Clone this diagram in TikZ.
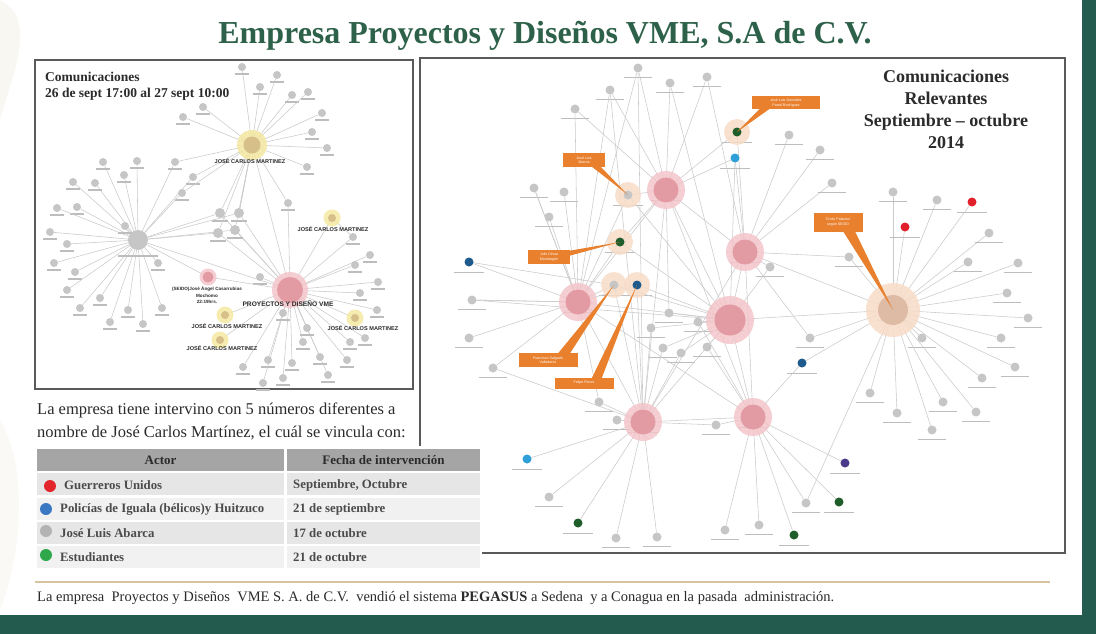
\documentclass[tikz,border=0pt]{standalone}
\usepackage{fontspec}
\setmainfont{Liberation Serif}
\setsansfont{Liberation Sans}
\usetikzlibrary{calc}
\pgfdeclarelayer{bg}\pgfdeclarelayer{edges}\pgfsetlayers{bg,edges,main}
\definecolor{dkgreen}{HTML}{235B4F}
\definecolor{titlegreen}{HTML}{2D6149}
\definecolor{nodegray}{HTML}{C6C6C6}
\definecolor{edgegray}{HTML}{CACACA}
\definecolor{lblgray}{HTML}{BDBDBD}
\definecolor{pinkin}{HTML}{E29AA3}
\definecolor{pinkhalo}{HTML}{F3C3C8}
\definecolor{peachhalo}{HTML}{F8DCC8}
\definecolor{taninner}{HTML}{DDBBA5}
\definecolor{yhaloc}{HTML}{F6E9A2}
\definecolor{yinnerc}{HTML}{D6BF88}
\definecolor{callorange}{HTML}{E8802E}
\definecolor{ltblue}{HTML}{2E9FD8}
\definecolor{dkblue}{HTML}{1F5A8C}
\definecolor{purp}{HTML}{4B3A8C}
\definecolor{dgreen}{HTML}{1F5E2A}
\definecolor{nred}{HTML}{E0202A}
\definecolor{thead}{HTML}{A5A5A5}
\definecolor{rowa}{HTML}{E6E6E6}
\definecolor{rowb}{HTML}{F1F1F1}
\definecolor{tred}{HTML}{E3262B}
\definecolor{tblue}{HTML}{3A78C2}
\definecolor{tgray}{HTML}{B3B3B3}
\definecolor{tgreen}{HTML}{2EA84A}
\definecolor{tanline}{HTML}{D8C3A0}
\definecolor{txtdark}{HTML}{2B2B2B}
\definecolor{framegray}{HTML}{5A5A5A}
\begin{document}
\begin{tikzpicture}[x=1pt,y=-1pt,
  edge/.style={draw=edgegray,line width=0.55pt},
  leaf/.style={circle,fill=nodegray,inner sep=0pt,minimum size=8pt},
  rleaf/.style={circle,fill=nodegray,inner sep=0pt,minimum size=9pt},
  cnode/.style={circle,fill=#1,inner sep=0pt,minimum size=9pt},
  lbl/.style={draw=lblgray,line width=1.1pt},
  pinkhub/.style={circle,fill=pinkin,inner sep=0pt},
  phalo/.style={circle,fill=pinkhalo,fill opacity=0.8,inner sep=0pt},
  pchalo/.style={circle,fill=peachhalo,fill opacity=0.85,inner sep=0pt,minimum size=26pt},
  yhalo/.style={circle,fill=yhaloc,fill opacity=0.85,inner sep=0pt},
  yinner/.style={circle,fill=yinnerc,inner sep=0pt},
  jcm/.style={font=\sffamily\bfseries\fontsize{5.6}{6}\selectfont,text=txtdark,inner sep=0pt},
  callout/.style={fill=callorange,text=white,font=\sffamily\fontsize{3.6}{4.2}\selectfont,align=center,inner sep=1pt},
  thd/.style={fill=thead,minimum height=22pt,inner sep=0pt,font=\bfseries\fontsize{13}{15}\selectfont,text=txtdark},
  tcell/.style={minimum height=22pt,inner sep=0pt},
  ttext/.style={anchor=west,inner sep=0pt,font=\bfseries\fontsize{12.8}{14}\selectfont,text=txtdark!85},
  tdot/.style={circle,fill=#1,inner sep=0pt,minimum size=12pt}
]
\useasboundingbox (0,0) rectangle (1096,634);
\begin{pgfonlayer}{bg}
\fill[white] (0,0) rectangle (1096,634);
\fill[tanline!25,opacity=0.5] (0,0) .. controls (40,20) and (10,80) .. (0,120) -- cycle;
\fill[tanline!25,opacity=0.4] (0,420) .. controls (30,470) and (20,560) .. (0,610) -- cycle;
% panels
\fill[white] (420,58) rectangle (1065,553);
\draw[framegray,line width=1.4pt] (420,58) rectangle (1065,553);
\fill[white] (35,60) rectangle (413,389);
\draw[framegray,line width=1.4pt] (35,60) rectangle (413,389);
\end{pgfonlayer}
% frame bands
\fill[dkgreen] (1082,0) rectangle (1096,634);
\fill[dkgreen] (0,615) rectangle (1096,634);

% title
\node[font=\bfseries\fontsize{32}{38}\selectfont,text=titlegreen] (title) at (545,36) {Empresa Proyectos y Diseños VME, S.A de C.V.};

%%%%%%%%%%%%%%%% LEFT NETWORK %%%%%%%%%%%%%%%%
\node[anchor=west,font=\bfseries\fontsize{13.5}{16}\selectfont,text=txtdark,align=left,inner sep=0pt] (lhead) at (45,86) {Comunicaciones\\26 de sept 17:00 al 27 sept 10:00};

\node[yhalo,minimum size=30pt] (Lth) at (252,145) {};
\node[yinner,minimum size=17pt] (Lt) at (252,145) {};
\node[circle,fill=nodegray,inner sep=0pt,minimum size=20pt] (Lg) at (138,240) {};
\node[phalo,minimum size=36pt] (Lph) at (290,290) {};
\node[pinkhub,minimum size=26pt] (Lp) at (290,290) {};
\node[phalo,minimum size=17pt] (Lsh) at (208,277) {};
\node[pinkhub,minimum size=11pt] (Ls) at (208,277) {};
\node[yhalo,minimum size=17pt] (Y1h) at (332,218) {};
\node[yinner,minimum size=8pt] (Y1) at (332,218) {};
\node[yhalo,minimum size=17pt] (Y2h) at (225,315) {};
\node[yinner,minimum size=8pt] (Y2) at (225,315) {};
\node[yhalo,minimum size=17pt] (Y3h) at (220,340) {};
\node[yinner,minimum size=8pt] (Y3) at (220,340) {};
\node[yhalo,minimum size=17pt] (Y4h) at (355,318) {};
\node[yinner,minimum size=8pt] (Y4) at (355,318) {};

% top hub leaves
\foreach \x/\y [count=\i] in {242/67,260/87,277/75,292/95,308/92,322/113,312/132,327/148,307/167,203/107,183/117}{
  \node[leaf] (lt\i) at (\x,\y) {};
  \coordinate (ltl\i a) at (\x-7,\y+7); \coordinate (ltl\i b) at (\x+7,\y+7);
  \begin{pgfonlayer}{edges}\draw[edge] (Lt) -- (lt\i); \draw[lbl] (ltl\i a) -- (ltl\i b);\end{pgfonlayer}
}
% gray hub leaves
\foreach \x/\y [count=\i] in {103/162,137/161,124/175,95/183,73/182,77/207,57/208,50/232,67/244,54/263,75/272,67/290,80/308,100/298,110/322,128/310,143/324,162/308,158/263,125/226}{
  \node[leaf] (lg\i) at (\x,\y) {};
  \coordinate (lgl\i a) at (\x-7,\y+7); \coordinate (lgl\i b) at (\x+7,\y+7);
  \begin{pgfonlayer}{edges}\draw[edge] (Lg) -- (lg\i); \draw[lbl] (lgl\i a) -- (lgl\i b);\end{pgfonlayer}
}
% bridge nodes
\foreach \x/\y [count=\i] in {175/162,193/177,182/193}{
  \node[leaf] (lb\i) at (\x,\y) {};
  \coordinate (lbl\i a) at (\x-7,\y+7); \coordinate (lbl\i b) at (\x+7,\y+7);
  \begin{pgfonlayer}{edges}\draw[edge] (Lg) -- (lb\i) -- (Lt); \draw[lbl] (lbl\i a) -- (lbl\i b);\end{pgfonlayer}
}
\foreach \x/\y [count=\i] in {220/213,239/213,218/233,235/230}{
  \node[circle,fill=nodegray,inner sep=0pt,minimum size=10pt] (lm\i) at (\x,\y) {};
  \coordinate (lml\i a) at (\x-8,\y+8); \coordinate (lml\i b) at (\x+8,\y+8);
  \begin{pgfonlayer}{edges}\draw[edge] (Lg) -- (lm\i) -- (Lp); \draw[edge] (lm\i) -- (Lt); \draw[lbl] (lml\i a) -- (lml\i b);\end{pgfonlayer}
}
% proyectos leaves
\foreach \x/\y [count=\i] in {288/203,353/237,370/255,355/265,378/282,360/293,377/310,365/338,350/342,347/360,328/375,320/357,303/342,307/328,292/363,283/378,268/360,263/383,243/367,260/277,283/313}{
  \node[leaf] (lp\i) at (\x,\y) {};
  \coordinate (lpl\i a) at (\x-7,\y+7); \coordinate (lpl\i b) at (\x+7,\y+7);
  \begin{pgfonlayer}{edges}\draw[edge] (Lp) -- (lp\i); \draw[lbl] (lpl\i a) -- (lpl\i b);\end{pgfonlayer}
}
\coordinate (lgla) at (118,256); \coordinate (lglb) at (158,256);
\begin{pgfonlayer}{edges}
\draw[edge] (Lt) -- (lp1); \draw[edge] (Lt) -- (Lp); \draw[edge] (Lg) -- (Lp);
\draw[edge] (Lg) -- (Ls); \draw[edge] (Ls) -- (Lp);
\foreach \y in {Y1,Y2,Y3,Y4}{\draw[edge] (Lp) -- (\y);}
\draw[edge] (Y1) -- (lp2); \draw[edge] (Lt) -- (lm2);
\draw[lbl] (lgla) -- (lglb);
\foreach \a in {0,15,...,345}{\draw[edgegray,line width=0.5pt] (Lt.center) -- ++(\a:15);}
\foreach \a in {0,12,...,348}{\draw[white!80!pinkin,line width=0.5pt] (Lp.center) -- ++(\a:18);}
\end{pgfonlayer}
% left labels
\node[jcm] (jt) at (250,161) {JOSÉ CARLOS MARTINEZ};
\node[jcm] (j1) at (333,229) {JOSÉ CARLOS MARTINEZ};
\node[jcm] (j2) at (227,326) {JOSÉ CARLOS MARTINEZ};
\node[jcm] (j3) at (222,348) {JOSÉ CARLOS MARTINEZ};
\node[jcm] (j4) at (363,328) {JOSÉ CARLOS MARTINEZ};
\node[jcm,font=\sffamily\bfseries\fontsize{6.6}{7}\selectfont] (jp) at (288,304) {PROYECTOS Y DISEÑO VME};
\node[jcm,font=\sffamily\bfseries\fontsize{4.6}{6.6}\selectfont,align=center] (js) at (207,295) {(SEIDO)José Ángel Casarrubias\\Mochomo\\22:19hrs.};

%%%%%%%%%%%%%%%% RIGHT NETWORK %%%%%%%%%%%%%%%%
\node[font=\bfseries\fontsize{18}{22}\selectfont,text=txtdark,align=center] (rtitle) at (946,109) {Comunicaciones\\Relevantes\\Septiembre – octubre\\2014};

\foreach \n/\x/\y/\hs/\is in {A/666/190/38/25,B/745/252/38/25,C/578/302/38/25,D/730/320/48/31,E/643/422/38/25,F/753/417/38/25}{
  \node[phalo,minimum size=\hs pt] (\n h) at (\x,\y) {};
  \node[pinkhub,minimum size=\is pt] (\n) at (\x,\y) {};
}
\node[circle,fill=peachhalo,fill opacity=0.85,inner sep=0pt,minimum size=54pt] (Gh) at (893,310) {};
\node[circle,fill=taninner,inner sep=0pt,minimum size=30pt] (G) at (893,310) {};

\node[pchalo] (pg1h) at (628,195) {}; \node[rleaf] (pg1) at (628,195) {};
\node[pchalo] (pg2h) at (614,285) {}; \node[rleaf] (pg2) at (614,285) {};
\node[pchalo] (cDB3h) at (637,285) {}; \node[cnode=dkblue] (cDB3) at (637,285) {};
\node[pchalo] (cGR4h) at (620,242) {}; \node[cnode=dgreen] (cGR4) at (620,242) {};
\node[pchalo] (cGR5h) at (737,132) {}; \node[cnode=dgreen] (cGR5) at (737,132) {};

\foreach \n/\c/\x/\y in {cLB1/ltblue/735/158,cDB1/dkblue/469/262,cDB2/dkblue/802/363,cLB2/ltblue/527/459,cPU/purp/845/463,cGR1/dgreen/839/502,cGR2/dgreen/578/523,cGR3/dgreen/794/535,cRD1/nred/972/202,cRD2/nred/905/227}{
  \node[cnode=\c] (\n) at (\x,\y) {};
}

\foreach \n/\x/\y/\h in {ra1/638/68/A,ra2/707/77/A,ra3/670/83/A,ra4/610/90/A,ra5/575/109/A,ra6/534/188/C,ra7/564/192/C,ra8/549/217/C,
 rb1/789/135/B,rb2/820/150/B,rb3/832/183/B,rb4/849/257/G,rb5/770/267/B,rb6/810/338/G,
 rc1/472/300/C,rc2/469/338/C,rc3/493/368/C,
 rd1/669/313/D,rd2/651/328/D,rd3/698/322/D,rd4/663/348/D,rd5/707/347/D,rd6/681/353/D,
 re1/599/402/E,re2/617/420/E,re3/716/425/E,re4/549/497/E,re5/616/538/E,re6/657/537/E,
 rf1/725/530/F,rf2/759/525/F,rf3/806/503/F,
 rg1/893/192/G,rg2/937/200/G,rg3/989/233/G,rg4/968/262/G,rg5/1018/263/G,rg6/1007/293/G,rg7/1028/318/G,rg8/1001/338/G,
 rg9/1015/367/G,rg10/982/378/G,rg11/922/338/G,rg12/870/393/G,rg13/897/413/G,rg14/943/402/G,rg15/976/412/G,rg16/932/430/G}{
  \node[rleaf] (\n) at (\x,\y) {};
  \coordinate (\n la) at (\x-14,\y+9); \coordinate (\n lb) at (\x+14,\y+9);
  \begin{pgfonlayer}{edges}\draw[edge] (\h) -- (\n); \draw[lbl,line width=0.9pt] (\n la) -- (\n lb);\end{pgfonlayer}
}
\foreach \n/\x/\y in {cLB1/735/158,cDB1/469/262,cDB2/802/363,cLB2/527/459,cPU/845/463,cGR1/839/502,cGR2/578/523,cGR3/794/535,cRD1/972/202,cRD2/905/227,pg1/628/195,pg2/614/285,cDB3/637/285,cGR4/620/242,cGR5/737/132,A/666/190,B/745/252,C/578/302,D/730/320,E/643/422,F/753/417,G/893/310}{
  \coordinate (\n la) at (\x-15,\y+10); \coordinate (\n lb) at (\x+15,\y+10);
  \begin{pgfonlayer}{edges}\draw[lbl,line width=0.9pt] (\n la) -- (\n lb);\end{pgfonlayer}
}
\begin{pgfonlayer}{edges}
\foreach \a/\b in {A/pg1,A/cLB1,A/cGR5,A/B,A/C,A/D,A/E,A/F,A/rd1,ra1/C,ra4/C,ra5/C,ra2/B,ra3/D,ra1/E,ra4/E,
  B/G,B/cLB1,B/D,B/E,B/F,B/cGR5,B/rb4,B/rb6,
  C/cDB1,C/pg2,C/cDB3,C/cGR4,C/D,C/E,C/F,C/ra6,C/rc1,
  D/G,D/E,D/F,D/rb5,
  E/rd4,E/rd6,E/cLB2,E/cGR2,E/F,E/rd2,
  F/re3,F/cGR3,F/cGR1,F/cPU,F/cDB2,F/rd5,F/rd3,
  G/cRD1,G/cRD2,G/cDB2,G/rf3,
  pg1/C,cGR4/A,cDB3/D,pg2/D,pg1/D,cGR4/D,pg2/E,cDB3/E,
  cDB1/pg2,rc1/D,rc3/E,re1/C,cLB1/D}{
  \draw[edge] (\a) -- (\b);
}
\foreach \a in {0,10,...,350}{\draw[white!75!taninner,line width=0.6pt] (G.center) -- ++(\a:27);}
\foreach \h in {A,B,C,E,F}{\foreach \a in {0,15,...,345}{\draw[white!70!pinkin,line width=0.5pt] (\h.center) -- ++(\a:19);}}
\foreach \a in {0,12,...,348}{\draw[white!70!pinkin,line width=0.5pt] (D.center) -- ++(\a:24);}
\end{pgfonlayer}

% callouts
\node[callout,minimum width=68pt,minimum height=13pt] (k1) at (786,103) {José Luis González\\Parral Rodríguez};
\fill[callorange] ($(k1.south west)+(8,-1)$) -- ($(k1.south west)+(18,-1)$) -- (cGR5.center) -- cycle;
\node[callout,minimum width=42pt,minimum height=14pt] (k2) at (584,160) {José Luis\\Abarca};
\fill[callorange] ($(k2.south east)+(-14,-1)$) -- ($(k2.south east)+(-5,-1)$) -- (pg1.center) -- cycle;
\node[callout,minimum width=42pt,minimum height=14pt] (k3) at (549,257) {Julio César\\Mondragón};
\fill[callorange] ($(k3.north east)+(-1,1)$) -- ($(k3.north east)+(-1,6)$) -- (cGR4.center) -- cycle;
\node[callout,minimum width=49pt,minimum height=19pt] (k4) at (838,222) {‘Cholo Palacios’\\según SEIDO};
\fill[callorange] ($(k4.south east)+(-20,-1)$) -- ($(k4.south east)+(-8,-1)$) -- (G.center) -- cycle;
\node[callout,minimum width=59pt,minimum height=14pt] (k5) at (548,360) {Francisco Salgado\\Valladares};
\fill[callorange] ($(k5.north east)+(-20,1)$) -- ($(k5.north east)+(-8,1)$) -- (pg2.center) -- cycle;
\node[callout,minimum width=59pt,minimum height=11pt] (k6) at (584,383) {Felipe Flores};
\fill[callorange] ($(k6.north east)+(-22,1)$) -- ($(k6.north east)+(-12,1)$) -- (cDB3.center) -- cycle;

%%%%%%%%%%%%%%%% TEXT + TABLE %%%%%%%%%%%%%%%%
\fill[white] (30,392) rectangle (417,447);
\node[anchor=west,font=\fontsize{16.5}{23}\selectfont,text=txtdark,align=left,inner sep=0pt] (para) at (37,421) {La empresa tiene intervino con 5 números diferentes a\\nombre de José Carlos Martínez, el cuál se vincula con:};

\fill[white] (35,446) rectangle (482,570);
\node[thd,minimum width=247pt] (th1) at (160.5,460) {Actor};
\node[thd,minimum width=193pt] (th2) at (383.5,460) {Fecha de intervención};
\foreach \y/\c [count=\i] in {484/rowa,508.5/rowb,532.5/rowa,556.5/rowb}{
  \node[tcell,fill=\c,minimum width=247pt] (ta\i) at (160.5,\y) {};
  \node[tcell,fill=\c,minimum width=193pt] (tb\i) at (383.5,\y) {};
}
\node[tdot=tred] (d1) at (50,486) {};
\node[tdot=tblue] (d2) at (46,509) {};
\node[tdot=tgray] (d3) at (46,531) {};
\node[tdot=tgreen] (d4) at (46,555) {};
\node[ttext] (a1) at (64,485) {Guerreros Unidos};
\node[ttext] (a2) at (60,509) {Policías de Iguala (bélicos)y Huitzuco};
\node[ttext] (a3) at (60,533) {José Luis Abarca};
\node[ttext] (a4) at (60,557) {Estudiantes};
\node[ttext] (b1) at (293,485) {Septiembre, Octubre};
\node[ttext] (b2) at (293,509) {21 de septiembre};
\node[ttext] (b3) at (293,533) {17 de octubre};
\node[ttext] (b4) at (293,557) {21 de octubre};

% footer
\coordinate (fl1) at (35,582); \coordinate (fl2) at (1050,582);
\draw[tanline,line width=1.6pt] (fl1) -- (fl2);
\node[anchor=west,inner sep=0pt,font=\fontsize{14.5}{16}\selectfont,text=txtdark] (foot) at (37,598) {La empresa\ \ Proyectos y Diseños\ \ VME S. A. de C.V.\ \ vendió el sistema \textbf{PEGASUS} a Sedena\ \ y a Conagua en la pasada\ \ administración.};
\end{tikzpicture}
\end{document}
